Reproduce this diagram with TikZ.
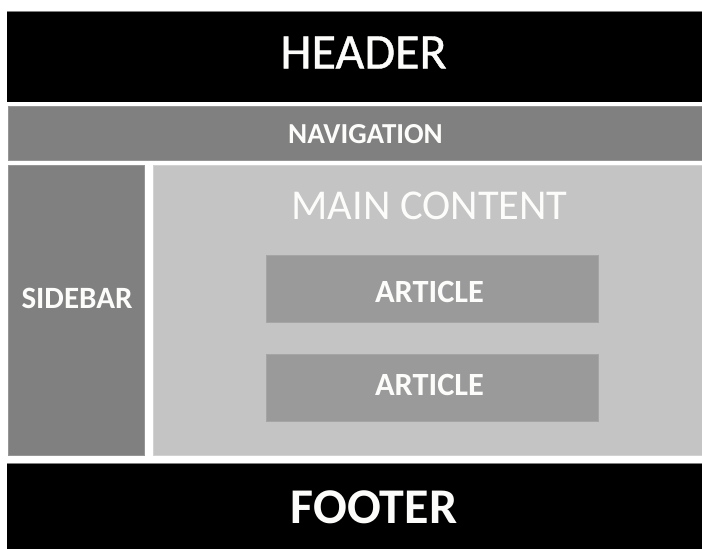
\documentclass[tikz,border=0pt]{standalone}
\usepackage{xcolor}
\definecolor{band}{RGB}{0,0,0}
\definecolor{bar}{RGB}{128,128,128}
\definecolor{barline}{RGB}{150,150,150}
\definecolor{panel}{RGB}{196,196,196}
\definecolor{panelline}{RGB}{210,210,210}
\definecolor{card}{RGB}{154,154,154}
\definecolor{cardline}{RGB}{165,165,165}
\definecolor{label}{RGB}{252,252,250}
\usepackage{fontspec}
\setmainfont{Carlito}
\newfontfamily\semi{Carlito}[FakeBold=0.8]
\usepackage{tikz}
\usetikzlibrary{positioning}

\tikzset{
    lbl/.style={inner sep=0pt, text=label},
}
\newcommand{\fs}[1]{\fontsize{#1}{#1}\selectfont}

\begin{document}
\begin{tikzpicture}[x=1pt, y=-1pt]
        \useasboundingbox (0, 0) rectangle (702, 549);
        \clip (0, 0) rectangle (702, 549);
        % top and bottom bands
        \fill[band] (7, 11) rectangle (704, 101.5);
        \draw[bar, line width=0.8pt] (7, 11.4) -- (704, 11.4);
        \fill[band] (7, 463) rectangle (704, 551);
        \draw[bar, line width=0.8pt] (7, 463.4) -- (704, 463.4);
        % navigation strip and sidebar
        \fill[bar] (8, 106) rectangle (704, 160.5);
        \draw[barline, line width=0.7pt] (8.3, 106.3) rectangle (704, 160.2);
        \fill[bar] (8, 165) rectangle (144.5, 455.5);
        \draw[barline, line width=0.7pt] (8.3, 165.3) rectangle (144.2, 455.2);
        % main area with the two articles
        \fill[panel] (153, 165) rectangle (704, 455.5);
        \draw[panelline, line width=0.7pt] (153.3, 165.3) rectangle (704, 455.2);
        \fill[card] (266, 255) rectangle (599, 323);
        \draw[cardline, line width=0.6pt] (266.3, 255.3) rectangle (598.7, 322.7);
        \fill[card] (266, 354) rectangle (599, 422);
        \draw[cardline, line width=0.6pt] (266.3, 354.3) rectangle (598.7, 421.7);
        % captions
        \node[lbl] (header) at (363.5, 52.5) {\fs{50}\semi HEADER};
        \node[lbl] (nav) at (365.5, 134) {\fs{29}\bfseries NAVIGATION};
        \node[lbl] (main) at (429.5, 205.5) {\fs{42.5}MAIN CONTENT};
        \node[lbl] (sidebar) at (77, 298) {\fs{31}\bfseries SIDEBAR};
        \node[lbl] (article1) at (429.5, 291.5) {\fs{32.4}\bfseries ARTICLE};
        \node[lbl] (article2) at (429.5, 384.7) {\fs{32.4}\bfseries ARTICLE};
        \node[lbl] (footer) at (374, 507.5) {\fs{50}\bfseries FOOTER};
    \end{tikzpicture}
\end{document}
